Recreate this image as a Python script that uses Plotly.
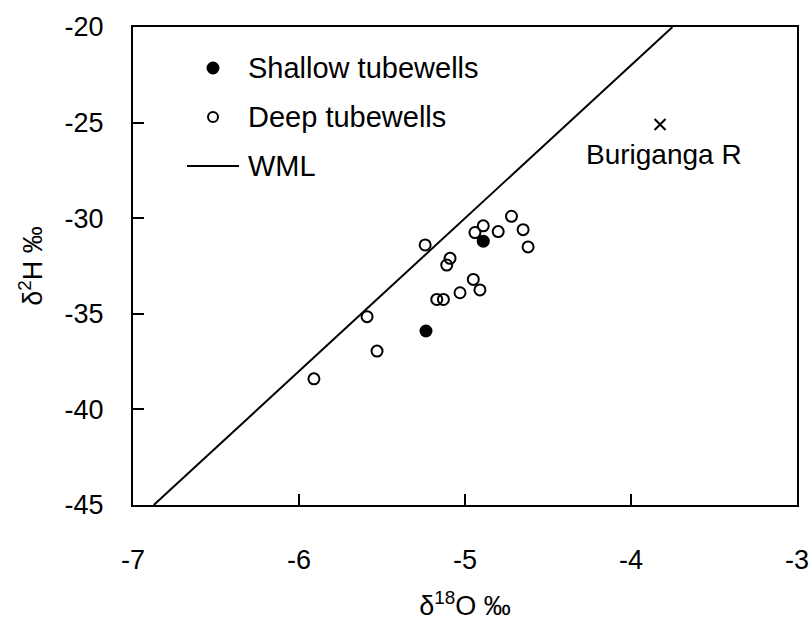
import plotly.graph_objects as go

# ---- data ----
shallow_o18 = [-4.89, -5.235]
shallow_h2 = [-31.2, -35.9]

deep_o18 = [-5.91, -5.59, -5.53, -5.24, -5.09, -5.11, -5.17, -5.13, -5.03,
            -4.95, -4.91, -4.94, -4.89, -4.80, -4.72, -4.65, -4.62]
deep_h2 = [-38.4, -35.15, -36.95, -31.4, -32.1, -32.45, -34.25, -34.25, -33.9,
           -33.2, -33.75, -30.75, -30.4, -30.7, -29.9, -30.6, -31.5]

wml_o18 = [-6.875, -3.75]
wml_h2 = [-45, -20]

river_o18 = [-3.825]
river_h2 = [-25.1]
river_name = "Buriganga R"

x_ticks = [-7, -6, -5, -4, -3]
y_ticks = [-45, -40, -35, -30, -25, -20]

legend_labels = ["Shallow tubewells", "Deep tubewells", "WML"]

FONT = "Liberation Sans, Arial, sans-serif"

fig = go.Figure()
fig.add_trace(go.Scatter(x=wml_o18, y=wml_h2, mode="lines",
                         line=dict(color="black", width=2), showlegend=False))
fig.add_trace(go.Scatter(x=deep_o18, y=deep_h2, mode="markers",
                         marker=dict(symbol="circle-open", size=11, color="black",
                                     line=dict(width=2, color="black")),
                         showlegend=False))
fig.add_trace(go.Scatter(x=shallow_o18, y=shallow_h2, mode="markers",
                         marker=dict(symbol="circle", size=13, color="black"),
                         showlegend=False))
fig.add_trace(go.Scatter(x=river_o18, y=river_h2, mode="markers",
                         marker=dict(symbol="x-thin", size=11, color="black",
                                     line=dict(width=2, color="black")),
                         showlegend=False))

# river label
fig.add_annotation(x=river_o18[0], y=river_h2[0], text=river_name, showarrow=False,
                   xanchor="center", yanchor="top", yshift=-12, xshift=4,
                   font=dict(family=FONT, size=28, color="black"))

# manual legend (paper coords)
W, H = 812, 624
L, R, T, B = 133, 15, 27, 119
pw, ph = W - L - R, H - T - B
def px(xp):
    return (xp - L) / pw
def py(yp):
    return (H - B - yp) / ph

leg_y = [68, 117, 166]
fig.add_shape(type="circle", xref="paper", yref="paper", xsizemode="pixel", ysizemode="pixel",
              xanchor=px(213), yanchor=py(leg_y[0]), x0=-6.5, x1=6.5, y0=-6.5, y1=6.5,
              fillcolor="black", line=dict(color="black", width=0))
fig.add_shape(type="circle", xref="paper", yref="paper", xsizemode="pixel", ysizemode="pixel",
              xanchor=px(213), yanchor=py(leg_y[1]), x0=-5, x1=5, y0=-5, y1=5,
              fillcolor="white", line=dict(color="black", width=2))
fig.add_shape(type="line", xref="paper", yref="paper",
              x0=px(187), x1=px(239), y0=py(leg_y[2]), y1=py(leg_y[2]),
              line=dict(color="black", width=2))
for lab, yy in zip(legend_labels, leg_y):
    fig.add_annotation(x=px(246), y=py(yy), xref="paper", yref="paper", text=lab,
                       showarrow=False, xanchor="left", yanchor="middle",
                       font=dict(family=FONT, size=29, color="black"))

axis_common = dict(showline=True, linecolor="black", linewidth=2, mirror=True,
                   ticks="inside", ticklen=11, tickwidth=2, tickcolor="black",
                   showgrid=False, zeroline=False,
                   tickfont=dict(family=FONT, size=27, color="black"))

fig.update_xaxes(range=[-7, -3], tickvals=x_ticks, ticktext=[str(v) for v in x_ticks],
                 ticklabelstandoff=30,
                 title=dict(text="δ<sup>18</sup>O ‰", standoff=22,
                            font=dict(family=FONT, size=27, color="black")),
                 **axis_common)
fig.update_yaxes(range=[-45, -20], tickvals=y_ticks, ticktext=[str(v) for v in y_ticks],
                 ticklabelstandoff=22,
                 title=dict(text="δ<sup>2</sup>H ‰", standoff=14,
                            font=dict(family=FONT, size=27, color="black")),
                 **axis_common)

fig.update_layout(width=W, height=H, margin=dict(l=L, r=R, t=T, b=B, autoexpand=False),
                  plot_bgcolor="white", paper_bgcolor="white", showlegend=False)

fig.write_html("out.html")
